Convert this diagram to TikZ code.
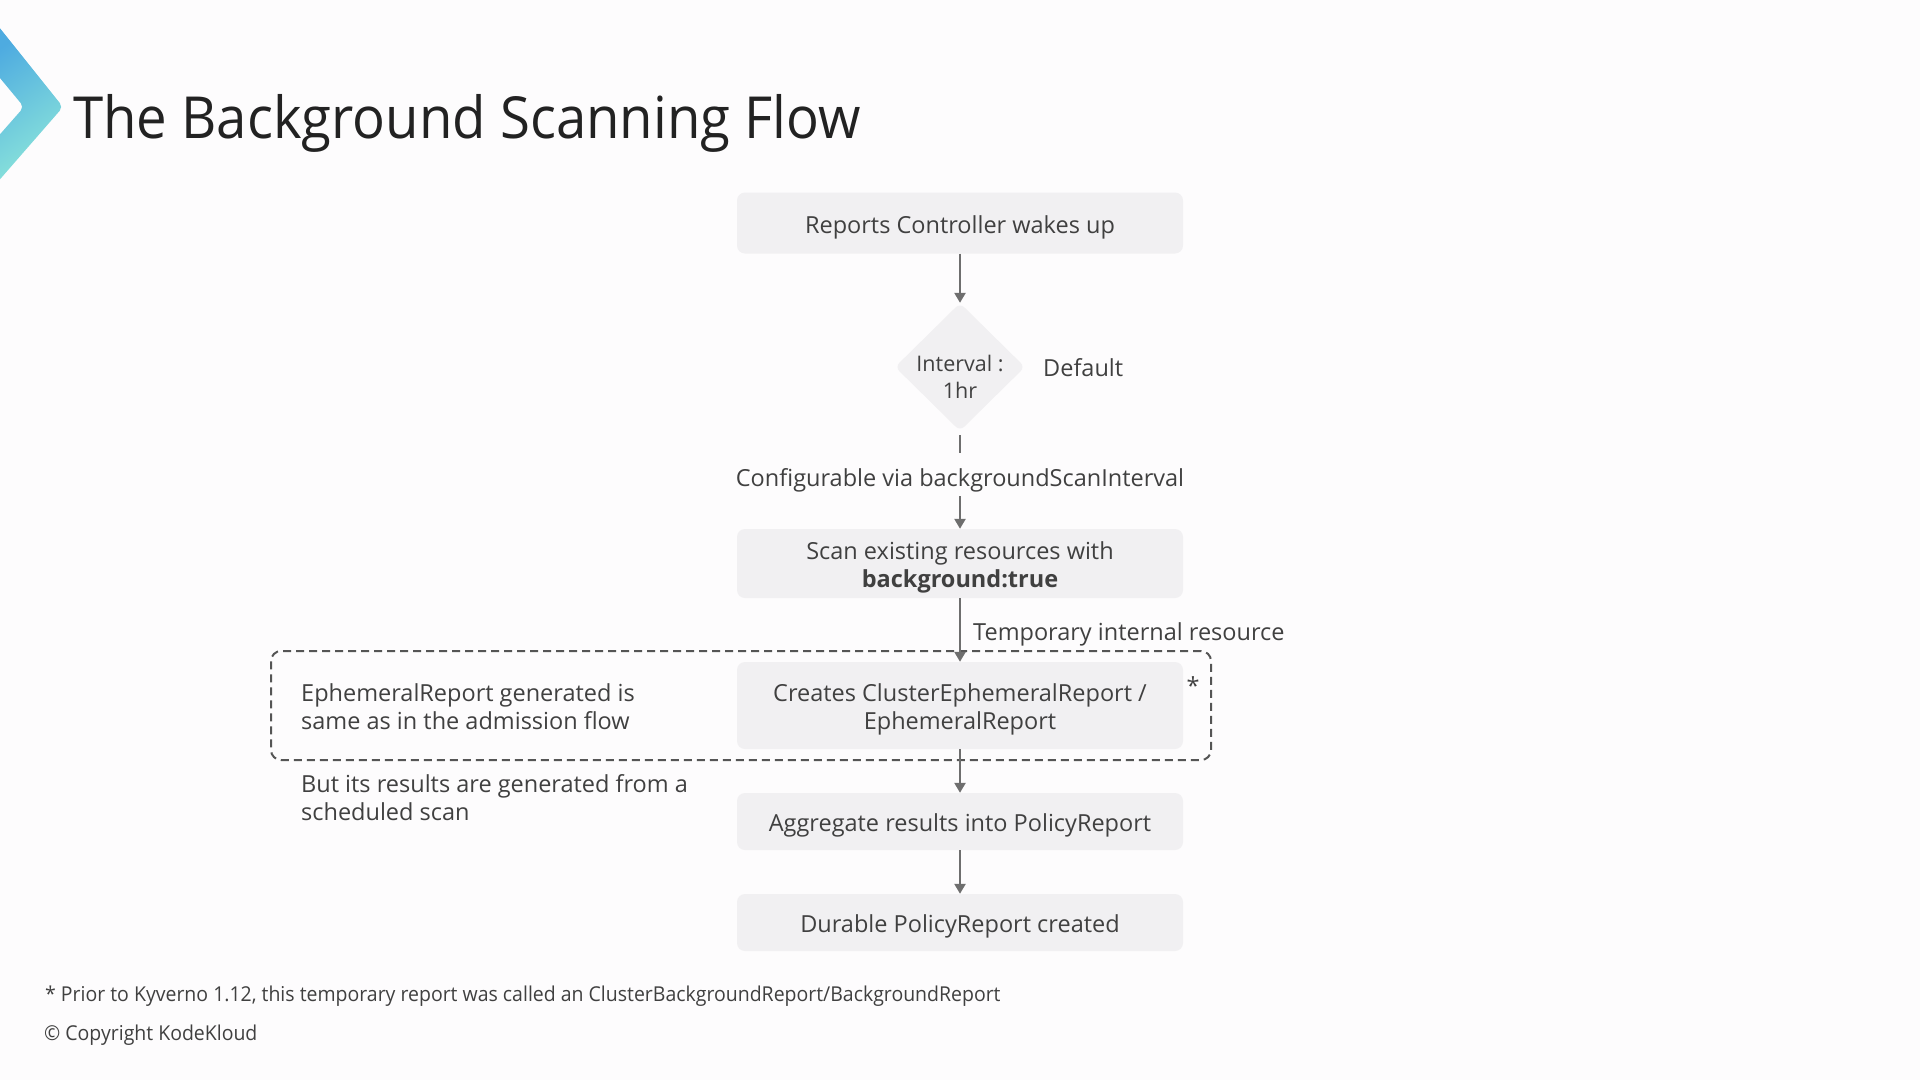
\documentclass[tikz,border=0pt]{standalone}
\usepackage{fontspec}
\setmainfont{Open Sans}
\usetikzlibrary{shapes.geometric,arrows.meta}
\definecolor{bgc}{HTML}{FDFCFD}
\definecolor{boxc}{HTML}{F1F0F2}
\definecolor{txt}{HTML}{404040}
\definecolor{ttl}{HTML}{222222}
\definecolor{arr}{HTML}{6E6E6E}
\definecolor{dsh}{HTML}{555555}
\definecolor{logoA}{HTML}{4EABE0}
\definecolor{logoB}{HTML}{8DE6DA}
\tikzset{
  stepbox/.style={rounded corners=8pt, fill=boxc, minimum width=446pt, inner sep=0pt},
  lbl/.style={text=txt, font=\fontsize{23.5}{28}\selectfont, align=center, inner sep=0pt, yshift=-4pt},
  plain/.style={text=txt, font=\fontsize{23.5}{28}\selectfont, inner sep=0pt},
  flow/.style={draw=arr, line width=2.4pt, -{Triangle[width=11pt,length=10pt]}},
  dashbox/.style={draw=dsh, line width=2pt, dash pattern=on 8pt off 5pt, rounded corners=10pt, inner sep=0pt},
}
\begin{document}
\begin{tikzpicture}[x=1pt,y=-1pt]
\useasboundingbox (0,0) rectangle (1920,1080);
\fill[bgc] (0,0) rectangle (1920,1080);
% logo chevron
\shade[top color=logoA, bottom color=logoB, shading angle=35, rounded corners=5pt]
  (-5,22) -- (63,107) -- (-5,185) -- (-5,140) -- (24,107) -- (-5,72) -- cycle;
% title
\node[anchor=base west, inner sep=0pt, text=ttl, font=\fontsize{58}{64}\selectfont] (title) at (73,138) {\scalebox{0.94}[1]{The Background Scanning Flow}};
% flow
\node[stepbox, minimum height=61pt, label={[lbl]center:Reports Controller wakes up}] (n1) at (960,223) {};
\node[diamond, fill=boxc, rounded corners=6pt, minimum width=130pt, minimum height=128pt, inner sep=0pt,
  label={[lbl, yshift=-6pt, font=\fontsize{21.5}{27}\selectfont]center:Interval :\\1hr}] (d) at (960,367) {};
\node[plain, anchor=west] (def) at (1043,368) {Default};
\node[minimum height=40pt, inner sep=0pt, label={[lbl]center:Configurable via backgroundScanInterval}] (cfg) at (960,476) {};
\node[stepbox, minimum height=69pt, label={[lbl]center:Scan existing resources with\\\textbf{background:true}}] (n2) at (960,563.5) {};
\node[dashbox, minimum width=940pt, minimum height=109pt] (grp) at (741,705.5) {};
\node[stepbox, minimum height=87pt, label={[lbl]center:Creates ClusterEphemeralReport /\\EphemeralReport}] (n3) at (960,705.5) {};
\node[plain] (star) at (1193,686) {*};
\node[plain, anchor=west, align=left] (eph) at (301,707) {EphemeralReport generated is\\same as in the admission flow};
\node[plain, anchor=west, align=left] (but) at (301,798) {But its results are generated from a\\scheduled scan};
\node[stepbox, minimum height=57pt, label={[lbl]center:Aggregate results into PolicyReport}] (n4) at (960,821.5) {};
\node[stepbox, minimum height=57pt, label={[lbl]center:Durable PolicyReport created}] (n5) at (960,922.5) {};
\draw[flow] (n1.south) -- (d.north);
\draw[draw=arr, line width=2.4pt, shorten <=4pt, shorten >=3pt] (d.south) -- (cfg.north);
\draw[flow] (cfg.south) -- (n2.north);
\draw[flow] (n2.south) -- (n3.north) node[pos=0.5, anchor=west, xshift=12pt, yshift=-4pt, plain] (tmp) {Temporary internal resource};
\draw[flow] (n3.south) -- (n4.north);
\draw[flow] (n4.south) -- (n5.north);
% footer
\node[anchor=west, inner sep=0pt, text=txt, font=\fontsize{20.5}{24}\selectfont] (foot) at (45,996)
  {\scalebox{0.95}[1]{* Prior to Kyverno 1.12, this temporary report was called an ClusterBackgroundReport/BackgroundReport}};
\node[anchor=west, inner sep=0pt, text=txt, font=\fontsize{20.5}{24}\selectfont] (copy) at (44,1035)
  {\scalebox{0.95}[1]{© Copyright KodeKloud}};
\end{tikzpicture}
\end{document}
